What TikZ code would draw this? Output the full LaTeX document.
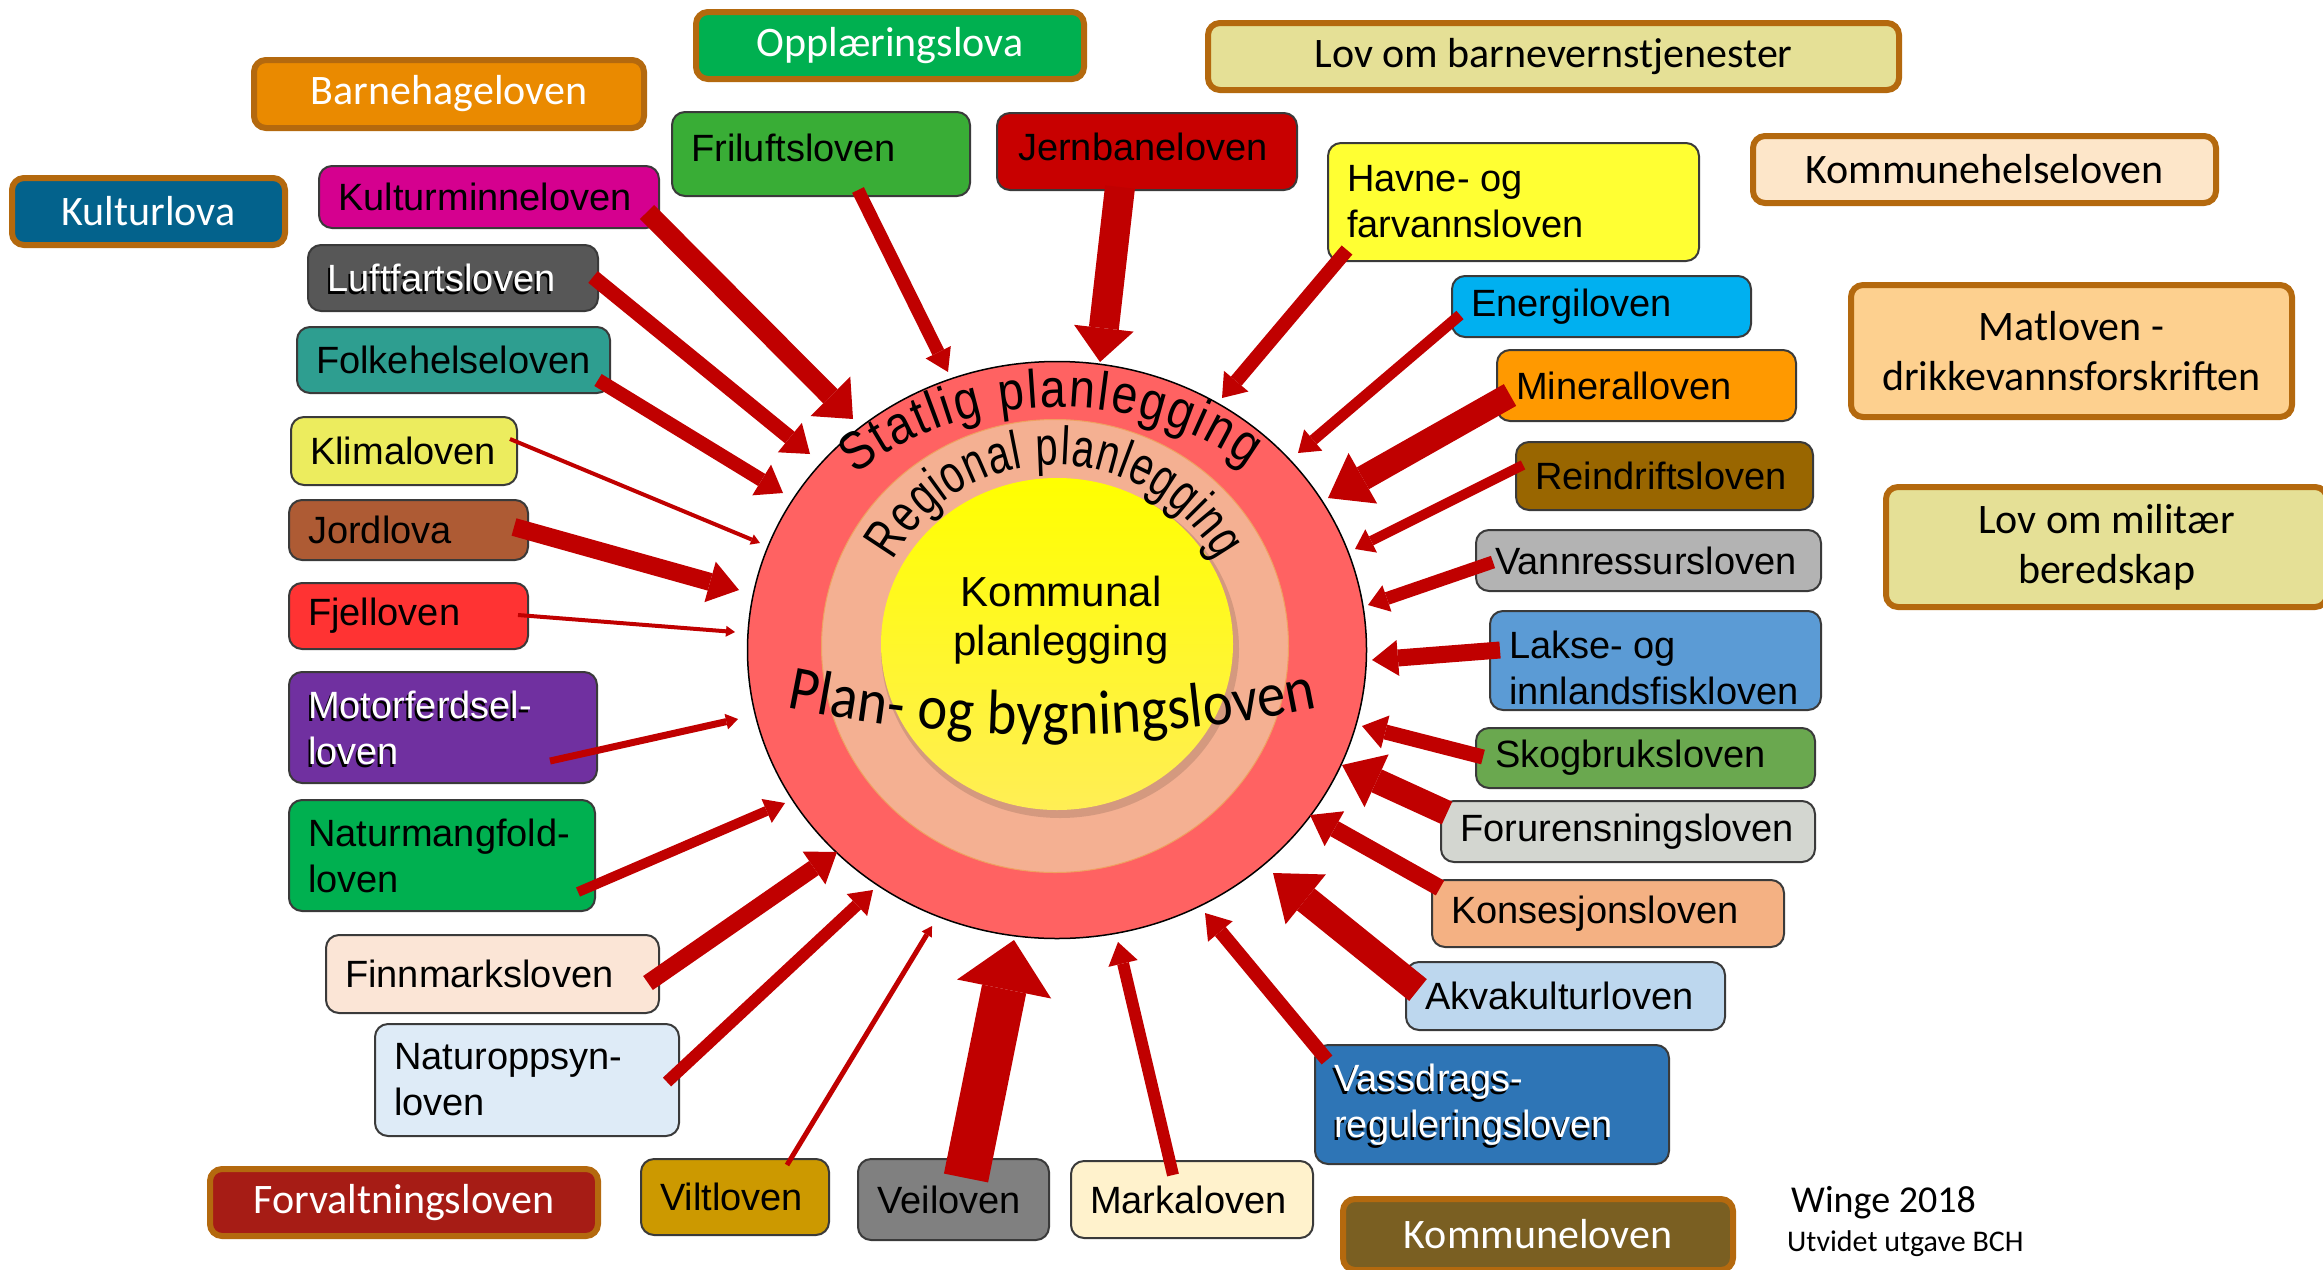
\documentclass[tikz,border=0pt]{standalone}
\usepackage{fontspec}
\setmainfont{Liberation Sans}
\newfontfamily\calf{Carlito}
\newfontfamily\arf{Liberation Sans}
\newfontfamily\arfc[FakeStretch=0.74]{Liberation Sans}
\newfontfamily\arfs[FakeStretch=0.86]{Liberation Sans}
\newfontfamily\calfc[FakeStretch=0.9]{Carlito}
\usetikzlibrary{arrows.meta,shapes.geometric,decorations.text}
\definecolor{arrowred}{HTML}{C00000}
\definecolor{ringred}{HTML}{FF6262}
\definecolor{ringsal}{HTML}{F4B092}
\definecolor{regline}{HTML}{F0A060}
\definecolor{ybottom}{HTML}{FFEE55}
\definecolor{bline}{HTML}{B4690E}
\definecolor{lline}{HTML}{3A3A3A}
\definecolor{cOpp}{HTML}{00B050}
\definecolor{cBarn}{HTML}{EA8A00}
\definecolor{cKulturlova}{HTML}{03628C}
\definecolor{cBvern}{HTML}{E5E096}
\definecolor{cKhelse}{HTML}{FDE6C9}
\definecolor{cMat}{HTML}{FDD08F}
\definecolor{cMil}{HTML}{E5E096}
\definecolor{cForv}{HTML}{A61C15}
\definecolor{cKlov}{HTML}{7A5F22}
\definecolor{cFril}{HTML}{39AD36}
\definecolor{cJern}{HTML}{C80000}
\definecolor{cHavn}{HTML}{FFFF33}
\definecolor{cKmin}{HTML}{D5008F}
\definecolor{cLuft}{HTML}{575757}
\definecolor{cFolk}{HTML}{2E9E90}
\definecolor{cKlim}{HTML}{ECEC5E}
\definecolor{cJord}{HTML}{AE5B34}
\definecolor{cFjel}{HTML}{FF3333}
\definecolor{cMotor}{HTML}{7030A0}
\definecolor{cNatm}{HTML}{00B050}
\definecolor{cFinn}{HTML}{FBE5D6}
\definecolor{cNato}{HTML}{DEEBF7}
\definecolor{cVilt}{HTML}{CC9900}
\definecolor{cVei}{HTML}{808080}
\definecolor{cMark}{HTML}{FFF2CC}
\definecolor{cVass}{HTML}{2E75B6}
\definecolor{cAkva}{HTML}{BDD7EE}
\definecolor{cKons}{HTML}{F4B183}
\definecolor{cForu}{HTML}{D3D6D0}
\definecolor{cSkog}{HTML}{6AA84F}
\definecolor{cLaks}{HTML}{5B9BD5}
\definecolor{cVann}{HTML}{B3B3B3}
\definecolor{cRein}{HTML}{996600}
\definecolor{cMine}{HTML}{FF9900}
\definecolor{cEner}{HTML}{00B0F0}

\tikzset{
  bbox/.style={draw=bline, line width=6pt, rounded corners=12pt, inner sep=0pt,
    font=\calf\fontsize{42}{50}\selectfont, align=center},
  lbox/.style={draw=lline, line width=2pt, rounded corners=13pt, inner sep=0pt},
  ltext/.style={anchor=west, inner sep=0pt, align=left, font=\arf\fontsize{38}{46}\selectfont},
  arr/.style 2 args={draw=arrowred, -{Triangle[width=#1pt,length=#2pt,line width=0pt]}},
}
% name, cx, cy, minwidth, minheight, fill
\newcommand\lawbox[6]{\node[lbox, fill=#6, minimum width=#4pt, minimum height=#5pt] (#1) at (#2,-#3) {};}
% name, text
\newcommand\lawtext[2]{\node[ltext] (#1-t) at ([xshift=20pt]#1.west) {#2};}
\newcommand\lawtextw[2]{\node[ltext, text=black] at ([xshift=18pt,yshift=-3pt]#1.west) {#2};
  \node[ltext, text=white] (#1-t) at ([xshift=20pt]#1.west) {#2};}
% name, sx, sy, ex, ey, shaft, headwidth, headlength
\newcommand\lawarrow[8]{\coordinate (#1-s) at (#2,-#3);
  \coordinate (#1-e) at (#4,-#5);
  \draw[arr={#7}{#8}, line width=#6pt] (#1-s) -- (#1-e);}

\begin{document}
\begin{tikzpicture}[x=1pt,y=1pt]
\useasboundingbox (0,0) rectangle (2323,-1269);
\fill[white] (0,0) rectangle (2323,-1269);

% rings
\node[ellipse, draw=black, line width=1.5pt, fill=ringred, minimum width=619pt, minimum height=577pt, inner sep=0pt] (stat) at (1057,-650) {};
\node[ellipse, draw=regline, line width=1pt, fill=ringsal, minimum width=467pt, minimum height=453pt, inner sep=0pt] (reg) at (1055,-646) {};
\fill[black, opacity=0.13] (1060,-649) ellipse[x radius=179, y radius=169];
\node[ellipse, top color=yellow, bottom color=ybottom, minimum width=352pt, minimum height=332pt, inner sep=0pt] (kom) at (1057,-644) {};

% curved texts
\path[decorate, decoration={text along path, text align={fit to path},
  text={|\arfs\fontsize{54}{56}\selectfont|Statlig planlegging}}]
  (1057,-650) ++(134:290pt and 243pt) arc[start angle=134, end angle=49, x radius=290pt, y radius=243pt];
\path[decorate, decoration={text along path, text align={fit to path},
  text={|\arfc\fontsize{54}{56}\selectfont|Regional planlegging}}]
  (1055,-650) ++(151:185pt) arc[start angle=151, end angle=29, radius=185pt];
\path[decorate, decoration={text along path, text align={fit to path},
  text={|\calfc\fontsize{63}{66}\selectfont|Plan- og bygningsloven}}]
  (1052,575) ++(258.3:1310pt) arc[start angle=258.3, end angle=281.7, radius=1310pt];

\node[font=\arf\fontsize{42}{49}\selectfont, align=center] (komtxt) at (1061,-620) {Kommunal\\planlegging};

% bordered boxes
\node[bbox, fill=cOpp, text=white, minimum width=388pt, minimum height=67pt] (opp) at (890,-45.5) {Opplæringslova};
\node[bbox, fill=cBarn, text=white, minimum width=390pt, minimum height=68pt] (barn) at (449,-94) {Barnehageloven};
\node[bbox, fill=cKulturlova, text=white, minimum width=273pt, minimum height=67pt] (kulv) at (148.5,-211.5) {Kulturlova};
\node[bbox, fill=cBvern, text=black, minimum width=691pt, minimum height=67pt] (bvern) at (1553.5,-56.5) {Lov om barnevernstjenester};
\node[bbox, fill=cKhelse, text=black, minimum width=463pt, minimum height=67pt] (khelse) at (1984.5,-169.5) {Kommunehelseloven};
\node[bbox, fill=cMat, text=black, minimum width=441pt, minimum height=132pt] (mat) at (2071.5,-351) {Matloven -\\drikkevannsforskriften};
\node[bbox, fill=cMil, text=black, minimum width=441pt, minimum height=120pt] (mil) at (2106.5,-547) {Lov om militær\\beredskap};
\node[bbox, fill=cForv, text=white, minimum width=388pt, minimum height=67pt] (forv) at (404,-1202.5) {Forvaltningsloven};
\node[bbox, fill=cKlov, text=white, minimum width=390pt, minimum height=71pt] (klov) at (1538,-1234.5) {Kommuneloven};

% law boxes
\lawbox{fril}{821}{154}{298}{84}{cFril}
\lawbox{jern}{1147}{151.5}{300}{77}{cJern}
\lawbox{havn}{1513.5}{202}{371}{118}{cHavn}
\lawbox{kmin}{489}{197}{340}{62}{cKmin}
\lawbox{luft}{453}{278}{290}{66}{cLuft}
\lawbox{folk}{453.5}{360}{313}{66}{cFolk}
\lawbox{klim}{404}{451}{226}{68}{cKlim}
\lawbox{jord}{408.5}{530}{239}{60}{cJord}
\lawbox{fjel}{408.5}{616}{239}{66}{cFjel}
\lawbox{motor}{443}{727.5}{308}{111}{cMotor}
\lawbox{natm}{442}{855.5}{306}{111}{cNatm}
\lawbox{finn}{492.5}{974}{333}{78}{cFinn}
\lawbox{nato}{527}{1080}{304}{112}{cNato}
\lawbox{vilt}{735}{1197}{188}{76}{cVilt}
\lawbox{vei}{953.5}{1199.5}{191}{81}{cVei}
\lawbox{mark}{1192}{1199.5}{242}{77}{cMark}
\lawbox{vass}{1492}{1104.5}{354}{119}{cVass}
\lawbox{akva}{1565.5}{996}{319}{68}{cAkva}
\lawbox{kons}{1608}{913.5}{352}{67}{cKons}
\lawbox{foru}{1628}{831.5}{374}{61}{cForu}
\lawbox{skog}{1645.5}{758}{339}{60}{cSkog}
\lawbox{laks}{1655.5}{660.5}{331}{99}{cLaks}
\lawbox{vann}{1648.5}{560.5}{345}{61}{cVann}
\lawbox{rein}{1664.5}{476}{297}{68}{cRein}
\lawbox{mine}{1646.5}{385.5}{299}{71}{cMine}
\lawbox{ener}{1601.5}{306.5}{299}{61}{cEner}

\node[ltext] (fril-t) at ([xshift=20pt,yshift=6pt]fril.west) {Friluftsloven};
\node[ltext] (jern-t) at ([xshift=22pt,yshift=5pt]jern.west) {Jernbaneloven};
\lawtext{havn}{Havne- og\\farvannsloven}
\lawtext{kmin}{Kulturminneloven}
\lawtextw{luft}{Luftfartsloven}
\lawtext{folk}{Folkehelseloven}
\lawtext{klim}{Klimaloven}
\lawtext{jord}{Jordlova}
\lawtext{fjel}{Fjelloven}
\lawtextw{motor}{Motorferdsel-\\loven}
\lawtext{natm}{Naturmangfold-\\loven}
\lawtext{finn}{Finnmarksloven}
\lawtext{nato}{Naturoppsyn-\\loven}
\lawtext{vilt}{Viltloven}
\lawtext{vei}{Veiloven}
\lawtext{mark}{Markaloven}
\lawtextw{vass}{Vassdrags-\\reguleringsloven}
\lawtext{akva}{Akvakulturloven}
\lawtext{kons}{Konsesjonsloven}
\lawtext{foru}{Forurensningsloven}
\lawtext{skog}{Skogbruksloven}
\node[ltext] (laks-t) at ([xshift=20pt,yshift=-7pt]laks.west) {Lakse- og\\innlandsfiskloven};
\lawtext{vann}{Vannressursloven}
\lawtext{rein}{Reindriftsloven}
\lawtext{mine}{Mineralloven}
\lawtext{ener}{Energiloven}

% arrows
\lawarrow{kminA}{647}{212}{853}{419}{20}{56}{32}
\lawarrow{luftA}{593}{277}{810}{454}{15}{38}{26}
\lawarrow{folkA}{598}{380}{783}{493}{14}{36}{25}
\lawarrow{klimA}{510}{439}{760}{543}{4}{11}{9}
\lawarrow{jordA}{514}{527}{739}{590}{18}{42}{30}
\lawarrow{fjelA}{518}{615}{735}{632}{4}{11}{9}
\lawarrow{motorA}{550}{761}{738}{719}{7}{16}{12}
\lawarrow{natmA}{578}{892}{785}{803}{10}{26}{20}
\lawarrow{finnA}{648}{983}{837}{852}{17}{40}{28}
\lawarrow{natoA}{667}{1082}{873}{890}{12}{30}{22}
\lawarrow{viltA}{787}{1165}{932}{926}{5}{12}{10}
\lawarrow{veiA}{966}{1178}{1014}{940}{45}{96}{50}
\lawarrow{markA}{1173}{1175}{1118}{942}{12}{30}{22}
\lawarrow{vassA}{1327}{1060}{1205}{913}{14}{32}{24}
\lawarrow{akvaA}{1418}{990}{1273}{873}{28}{64}{42}
\lawarrow{konsA}{1440}{888}{1310}{815}{17}{40}{28}
\lawarrow{foruA}{1447}{813}{1342}{765}{25}{58}{38}
\lawarrow{skogA}{1483}{757}{1362}{726}{15}{34}{24}
\lawarrow{laksA}{1500}{650}{1372}{660}{17}{36}{26}
\lawarrow{vannA}{1493}{562}{1368}{605}{13}{28}{20}
\lawarrow{reinA}{1523}{465}{1355}{549}{10}{26}{18}
\lawarrow{mineA}{1510}{395}{1328}{498}{25}{58}{40}
\lawarrow{enerA}{1460}{315}{1298}{453}{11}{28}{20}
\lawarrow{havnA}{1347}{250}{1222}{398}{14}{32}{22}
\lawarrow{jernA}{1120}{187}{1100}{362}{30}{60}{34}
\lawarrow{frilA}{858}{190}{948}{372}{13}{28}{22}

% credits
\node[anchor=west, inner sep=0pt, font=\calf\fontsize{38}{40}\selectfont] (winge) at (1791,-1203) {Winge 2018};
\node[anchor=west, inner sep=0pt, font=\calf\fontsize{30}{32}\selectfont] (bch) at (1787,-1244) {Utvidet utgave BCH};
\end{tikzpicture}
\end{document}
